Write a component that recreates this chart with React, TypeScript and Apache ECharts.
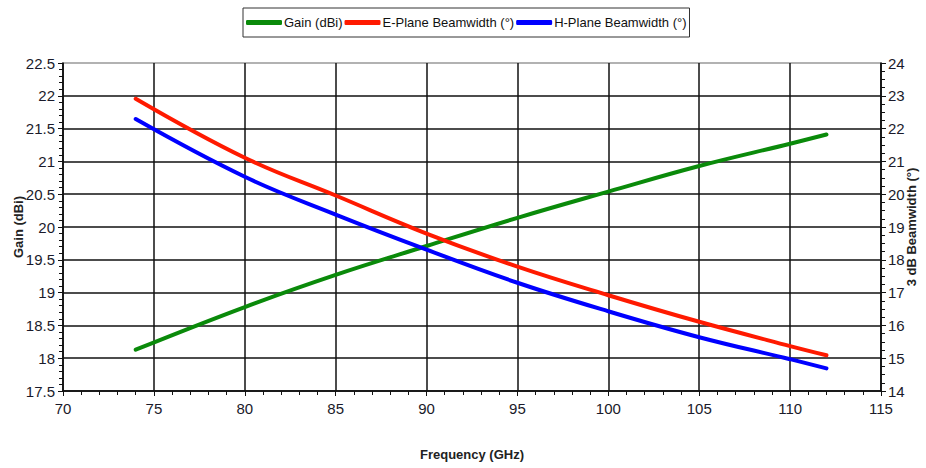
import React, { useEffect, useRef } from "react";
import * as echarts from "echarts";

const freq = [74, 80, 85, 90, 95, 100, 105, 110, 112];
const gain = [18.13, 18.78, 19.27, 19.71, 20.14, 20.54, 20.93, 21.27, 21.41];
const eBeam = [22.91, 21.11, 19.96, 18.8, 17.79, 16.92, 16.11, 15.37, 15.09];
const hBeam = [22.29, 20.53, 19.38, 18.31, 17.3, 16.43, 15.64, 14.97, 14.69];
const seriesNames = ["Gain (dBi)", "E-Plane Beamwidth (°)", "H-Plane Beamwidth (°)"];
const xName = "Frequency (GHz)";
const leftName = "Gain (dBi)";
const rightName = "3 dB Beamwidth (°)";

const FONT = "'Liberation Sans', Arial, sans-serif";

export default function App() {
  const ref = useRef<HTMLDivElement>(null);
  useEffect(() => {
    if (!ref.current) return;
    const chart = echarts.init(ref.current, null, { renderer: "svg" });
    const pair = (ys: number[]) => freq.map((x, i) => [x, ys[i]]);
    const axisLineStyle = { color: "#111", width: 1.5 };
    const tickStyle = { color: "#111", width: 1 };
    chart.setOption({
      animation: false,
      backgroundColor: "#fff",
      textStyle: { fontFamily: FONT },
      legend: {
        left: 243,
        top: 8,
        padding: [8, 3],
        borderColor: "#333",
        borderWidth: 1,
        itemGap: 2,
        itemWidth: 36,
        itemHeight: 5,
        icon: "roundRect",
        textStyle: { fontFamily: FONT, fontSize: 13, color: "#111", padding: [0, 0, 0, -3] },
        data: seriesNames,
      },
      grid: {
        left: 63,
        right: 45,
        top: 63,
        bottom: 77,
        show: true,
        borderColor: "#999",
        borderWidth: 1.5,
        containLabel: false,
        outerBoundsMode: "none",
      },
      xAxis: {
        type: "value",
        min: 70,
        max: 115,
        interval: 5,
        name: xName,
        nameLocation: "middle",
        nameGap: 57,
        nameMoveOverlap: false,
        nameTextStyle: { fontFamily: FONT, fontSize: 13, fontWeight: "bold", color: "#222" },
        axisLine: { show: true, lineStyle: axisLineStyle },
        axisTick: { show: true, length: 5, inside: false, lineStyle: tickStyle },
        minorTick: { show: true, splitNumber: 5, length: 4, lineStyle: tickStyle },
        axisLabel: { fontFamily: FONT, fontSize: 15, color: "#1a1a2a", margin: 10 },
        splitLine: { show: true, lineStyle: { color: "#111", width: 1.5 } },
      },
      yAxis: [
        {
          type: "value",
          min: 17.5,
          max: 22.5,
          interval: 0.5,
          position: "left",
          name: leftName,
          nameLocation: "middle",
          nameRotate: 90,
          nameGap: 38,
          nameMoveOverlap: false,
          nameTextStyle: { fontFamily: FONT, fontSize: 13, fontWeight: "bold", color: "#222" },
          axisLine: { show: true, lineStyle: axisLineStyle },
          axisTick: { show: true, length: 5, inside: false, lineStyle: tickStyle },
          minorTick: { show: true, splitNumber: 5, length: 4, lineStyle: tickStyle },
          axisLabel: { fontFamily: FONT, fontSize: 15, color: "#1a1a2a", margin: 8 },
          splitLine: { show: true, showMaxLine: false, lineStyle: { color: "#111", width: 1.5 } },
        },
        {
          type: "value",
          min: 14,
          max: 24,
          interval: 1,
          position: "right",
          name: rightName,
          nameLocation: "middle",
          nameRotate: 90,
          nameGap: 24,
          nameMoveOverlap: false,
          nameTextStyle: { fontFamily: FONT, fontSize: 13, fontWeight: "bold", color: "#222" },
          axisLine: { show: true, lineStyle: axisLineStyle },
          axisTick: { show: true, length: 5, inside: false, lineStyle: tickStyle },
          minorTick: { show: true, splitNumber: 4, length: 4, lineStyle: tickStyle },
          axisLabel: { fontFamily: FONT, fontSize: 15, color: "#1a1a2a", margin: 7 },
          splitLine: { show: false },
        },
      ],
      series: [
        {
          name: seriesNames[0],
          type: "line",
          yAxisIndex: 0,
          smooth: 0.4,
          showSymbol: false,
          data: pair(gain),
          lineStyle: { color: "#0a8a0a", width: 4, cap: "round" },
          itemStyle: { color: "#0a8a0a" },
        },
        {
          name: seriesNames[1],
          type: "line",
          yAxisIndex: 1,
          smooth: 0.4,
          showSymbol: false,
          data: pair(eBeam),
          lineStyle: { color: "#ff1a00", width: 4, cap: "round" },
          itemStyle: { color: "#ff1a00" },
        },
        {
          name: seriesNames[2],
          type: "line",
          yAxisIndex: 1,
          smooth: 0.4,
          showSymbol: false,
          data: pair(hBeam),
          lineStyle: { color: "#0000ff", width: 4, cap: "round" },
          itemStyle: { color: "#0000ff" },
        },
      ],
    });
    return () => chart.dispose();
  }, []);
  return <div ref={ref} style={{ width: 926, height: 468, position: "absolute", left: 0, top: 0 }} />;
}
